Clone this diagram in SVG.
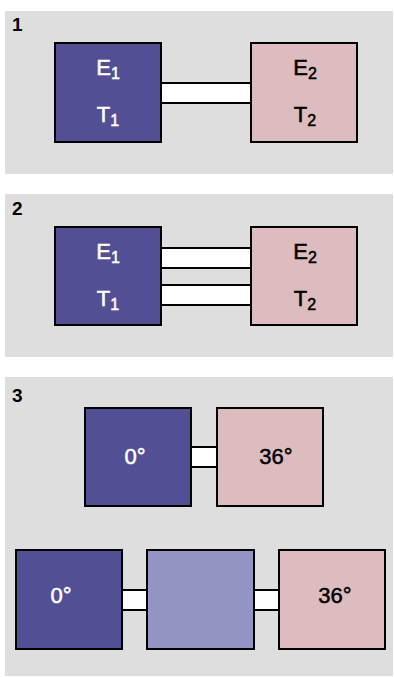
<svg xmlns="http://www.w3.org/2000/svg" width="394" height="677" viewBox="0 0 394 677">
<style>
.panel{fill:#dedede}
.box{stroke:#000;stroke-width:2}
.dark{fill:#524f94}
.pink{fill:#dcbcbe}
.mid{fill:#9494c4}
.bar{fill:#fff;stroke:#000;stroke-width:2}
.lbl{font-family:"Liberation Sans",Arial,sans-serif;font-weight:bold;font-size:19px;fill:#000}
.t{font-family:"Liberation Sans",Arial,sans-serif;font-size:22px;text-anchor:middle;stroke-width:0.5}
.w{fill:#fff;stroke:#fff}
.k{fill:#000;stroke:#000}
.sub{font-size:16px}
</style>
<rect class="panel" x="5" y="11" width="388" height="163"/>
<rect class="panel" x="5" y="194" width="388" height="163"/>
<rect class="panel" x="5" y="377" width="388" height="299"/>
<text class="lbl" x="12" y="31">1</text>
<text class="lbl" x="12" y="215">2</text>
<text class="lbl" x="12" y="402">3</text>
<g id="connectors">
<rect class="bar" x="160" y="83" width="92" height="20"/>
<rect class="bar" x="160" y="248" width="92" height="20"/>
<rect class="bar" x="160" y="285" width="92" height="20"/>
<rect class="bar" x="190" y="447" width="28" height="20"/>
<rect class="bar" x="121" y="590" width="28" height="20"/>
<rect class="bar" x="253" y="590" width="28" height="20"/>
</g>
<g id="p1-left"><rect class="box dark" x="55" y="43" width="106" height="99"/>
<text class="t w" x="108" y="75">E<tspan class="sub" dy="4">1</tspan></text>
<text class="t w" x="108" y="122">T<tspan class="sub" dy="4">1</tspan></text></g>
<g id="p1-right"><rect class="box pink" x="251" y="43" width="106" height="99"/>
<text class="t k" x="305" y="75">E<tspan class="sub" dy="4">2</tspan></text>
<text class="t k" x="305" y="122">T<tspan class="sub" dy="4">2</tspan></text></g>
<g id="p2-left"><rect class="box dark" x="55" y="227" width="106" height="98"/>
<text class="t w" x="108" y="259">E<tspan class="sub" dy="4">1</tspan></text>
<text class="t w" x="108" y="306">T<tspan class="sub" dy="4">1</tspan></text></g>
<g id="p2-right"><rect class="box pink" x="251" y="227" width="106" height="98"/>
<text class="t k" x="305" y="259">E<tspan class="sub" dy="4">2</tspan></text>
<text class="t k" x="305" y="306">T<tspan class="sub" dy="4">2</tspan></text></g>
<g id="p3-a"><rect class="box dark" x="85" y="408" width="106" height="98"/>
<text class="t w" x="135" y="464">0°</text></g>
<g id="p3-b"><rect class="box pink" x="217" y="408" width="106" height="98"/>
<text class="t k" x="276" y="464">36°</text></g>
<g id="p3-c"><rect class="box dark" x="16" y="550" width="106" height="99"/>
<text class="t w" x="61" y="603">0°</text></g>
<g id="p3-d"><rect class="box mid" x="147" y="550" width="107" height="99"/>
</g>
<g id="p3-e"><rect class="box pink" x="279" y="550" width="106" height="99"/>
<text class="t k" x="335" y="603">36°</text></g>
</svg>
